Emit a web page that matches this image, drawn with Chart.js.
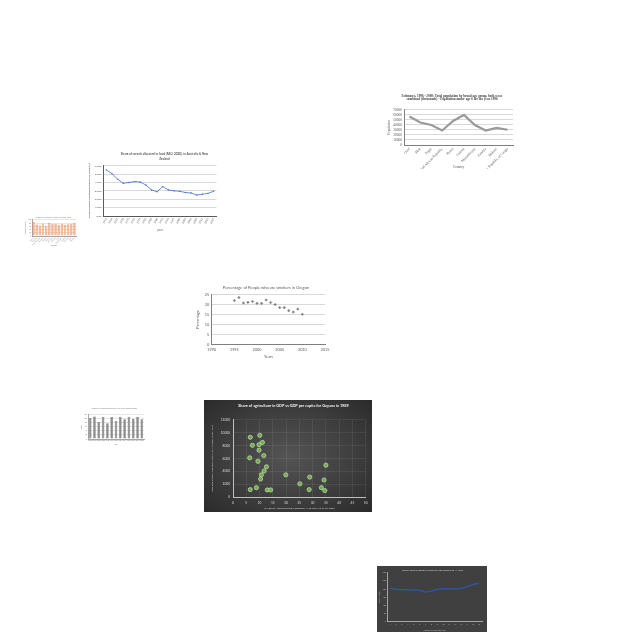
<!DOCTYPE html>
<html><head><meta charset="utf-8">
<script src="https://cdn.jsdelivr.net/npm/chart.js@4.4.1/dist/chart.umd.min.js"></script>
<style>
html,body{margin:0;padding:0;background:#fff;}
#wrap{position:relative;width:640px;height:640px;overflow:hidden;background:#fff;}
canvas,.bg{position:absolute;}
</style></head><body><div id="wrap">
<div class="bg" style="left:204px;top:400px;width:168px;height:112px;background:radial-gradient(ellipse at 50% 50%, #545454 0%, #3c3c3c 60%, #2a2a2a 100%);"></div>
<div class="bg" style="left:377px;top:566px;width:110px;height:66px;background:#404040;"></div>
<canvas id="c1"></canvas><canvas id="c2"></canvas><canvas id="c3"></canvas><canvas id="c4"></canvas>
<canvas id="c5"></canvas><canvas id="c6"></canvas><canvas id="c7"></canvas>
</div>
<script>
// ---- data ----
const popCountries = ["Chad","Mali","Niger","Central African Republic","Benin","Guinea","Mozambique","Zambia","Malawi","Democratic Republic of Congo"];
const popValues = [57000, 45000, 40000, 29000, 48000, 60000, 40000, 29000, 34000, 30500];

const cerealYears = ["1961","1964","1967","1970","1973","1976","1979","1982","1985","1988","1991","1994","1997","2000","2003","2006","2009","2012","2015","2017"];
const cerealShare = [55, 50.5, 44, 39, 40, 41, 40.5, 37, 31, 29, 35, 31, 30, 29.5, 28, 27.5, 25, 26, 27, 29.5];

const barCats3 = ["Austria","Belgium","Czech Republic","Denmark","Finland","France","Germany","Hungary","Italy","Netherlands","Poland","Portugal","Spain","Sweden"];
const barVals3 = [88, 72, 66, 78, 64, 82, 76, 76, 70, 76, 68, 74, 76, 82];

const smokeYears = [1995,1996,1997,1998,1999,2000,2001,2002,2003,2004,2005,2006,2007,2008,2009,2010];
const smokePct = [21.9, 23.4, 20.7, 21.0, 21.4, 20.5, 20.5, 22.2, 20.9, 19.9, 18.4, 18.4, 16.9, 16.2, 17.7, 15.1];

const barYears5 = ["2006","2007","2008","2009","2010","2011","2012","2013","2014","2015","2016","2017","2018"];
const barVals5 = [104, 111, 84, 109, 78, 109, 90, 110, 97, 110, 100, 110, 97];

const agriShare = [6.5, 7.3, 10.1, 11.1, 9.8, 9.8, 11.6, 6.3, 9.4, 12.6, 11.7, 10.7, 10.4, 8.8, 6.5, 12.9, 14.2, 19.9, 25.2, 28.9, 28.7, 35.0, 34.3, 33.3, 34.6];
const gdpPerCapita = [9300, 8050, 9600, 8500, 8150, 7300, 6450, 6100, 5550, 4700, 4050, 3450, 2800, 1450, 1150, 1100, 1100, 3450, 2050, 3100, 1150, 4950, 2650, 1450, 1000];

const weekLabels = ["1","2","3","4","5","6","7","8","9","10","11","12","13","14","15","16"];
const weeklyDeaths = [205, 198, 196, 195, 194, 192, 182, 188, 198, 202, 201, 200, 203, 215, 228, 236];

// ---- helpers ----
function place(id, L, T, W, H){ const c=document.getElementById(id); c.width=W; c.height=H; c.style.left=L+'px'; c.style.top=T+'px'; c.style.width=W+'px'; c.style.height=H+'px'; return c; }
const fw = w => s => { s.width = w; };
const fh = h => s => { s.height = h; };
const plain = v => String(v);
function spacer(w){ return {axis:'y', position:'right', display:true, grid:{display:false,drawTicks:false}, border:{display:false}, ticks:{display:false}, afterFit: fw(w)}; }
function opts(o){
  return Object.assign({responsive:false, animation:false, devicePixelRatio:1, events:[]}, o, {
    plugins: Object.assign({legend:{display:false}, tooltip:{enabled:false}}, o.plugins||{}),
    layout: Object.assign({autoPadding:false}, o.layout||{})
  });
}
const f = (family, size, weight) => ({family, size, lineHeight:1.2, weight: weight||'normal'});
const LATO = 'Lato, "Open Sans", sans-serif';
const SERIF = '"Liberation Serif", "DejaVu Serif", serif';

// ---- chart 1 ----
new Chart(place('c1', 380, 90, 144, 90), {type:'line',
  data:{labels: popCountries, datasets:[{data: popValues, borderColor:'#9a9a9a', borderWidth:2.2, pointRadius:0, tension:0}]},
  options: opts({
    layout:{padding:{bottom:11}},
    plugins:{title:{display:true, text:["Estimates, 1996 - 2008: Total population by broad age group, both sexes","combined (thousands) - Population under age 6 for the year 1996"], font:{family:SERIF,size:3.3,lineHeight:1.1}, color:'#404040', padding:{top:3.9,bottom:8.8}}},
    scales:{
      x:{offset:true, afterFit: fh(24), grid:{display:false,drawTicks:false}, border:{color:'#7f7f7f'}, ticks:{autoSkip:false,minRotation:45,maxRotation:45,padding:2,font:f(SERIF,3.5),color:'#595959'}, title:{display:true,text:'Country',font:f(SERIF,3.5),color:'#595959',padding:{top:0,bottom:0}}},
      y:{min:0,max:70000, afterFit: fw(24), grid:{color:'#d9d9d9',drawTicks:false}, border:{color:'#7f7f7f'}, ticks:{autoSkip:false,stepSize:10000,padding:2,font:f(SERIF,3.5),color:'#595959',callback:plain}, title:{display:true,text:'Population',font:f(SERIF,3.5),color:'#595959',padding:{top:6.9,bottom:0}}},
      sp: spacer(11)
    }
  })});

// ---- chart 2 ----
new Chart(place('c2', 86, 146, 157, 92), {type:'line',
  data:{labels: cerealYears, datasets:[{data: cerealShare, borderColor:'#4472c4', borderWidth:0.8, pointRadius:0.7, pointBackgroundColor:'#4472c4', pointBorderWidth:0, tension:0}]},
  options: opts({
    layout:{padding:{bottom:5}},
    plugins:{title:{display:true, text:["Share of cereals allocated to food (FAO, 2020), in Australia & New","Zealand"], font:{family:LATO,size:3,lineHeight:1.8}, color:'#595959', padding:{top:5.3,bottom:3.6}}},
    scales:{
      x:{offset:true, afterFit: fh(17), grid:{display:false,drawTicks:false}, border:{color:'#595959'}, ticks:{autoSkip:false,minRotation:60,maxRotation:60,padding:1.5,font:f(LATO,2.6),color:'#595959'}, title:{display:true,text:'year',font:f(LATO,2.8),color:'#595959',padding:{top:0,bottom:1.3}}},
      y:{min:0,max:60, afterFit: fw(17.5), grid:{color:'#d9d9d9',drawTicks:false}, border:{color:'#595959'}, ticks:{autoSkip:false,stepSize:10,padding:2,font:f(LATO,2.6),color:'#595959',callback:v=>Number(v).toFixed(2)}, title:{display:true,text:'Share of cereals allocated to food (FAO, 2020) (%)',font:f(LATO,2.5,'bold'),color:'#595959',padding:{top:1.3,bottom:0}}},
      sp: spacer(26.5)
    }
  })});

// ---- chart 3 ----
new Chart(place('c3', 22, 212, 62, 45), {type:'bar',
  data:{labels: barCats3, datasets:[{data: barVals3, backgroundColor:'rgba(244,177,131,0.9)', borderColor:'#e2825a', borderWidth:0.5, barPercentage:0.75, categoryPercentage:1}]},
  options: opts({
    layout:{padding:{bottom:9}},
    plugins:{title:{display:true, text:"Number of visitors by country of origin, 2018", font:f(LATO,1.8), color:'#7f7f7f', padding:{top:3.9,bottom:1.9}}},
    scales:{
      x:{afterFit: fh(12), grid:{display:false,drawTicks:false}, border:{color:'#a6a6a6'}, ticks:{autoSkip:false,minRotation:45,maxRotation:45,padding:1,font:f(LATO,1.6),color:'#7f7f7f'}, title:{display:true,text:'Country',font:f(LATO,1.8),color:'#7f7f7f',padding:{top:0,bottom:1.9}}},
      y:{min:0,max:100, afterFit: fw(10), grid:{color:'#e6e6e6',drawTicks:false}, border:{color:'#a6a6a6'}, ticks:{autoSkip:false,stepSize:20,padding:1,font:f(LATO,1.6),color:'#7f7f7f',callback:plain}, title:{display:true,text:'Visitors (thousands)',font:f(LATO,1.6),color:'#7f7f7f',padding:{top:3,bottom:0}}},
      sp: spacer(8)
    }
  })});

// ---- chart 4 ----
new Chart(place('c4', 192, 280, 148, 84), {type:'scatter',
  data:{datasets:[{data: smokeYears.map((y,i)=>({x:y, y:smokePct[i]})), pointStyle:'rectRot', pointRadius:1.3, backgroundColor:'#7f7f7f', borderColor:'#7f7f7f', borderWidth:0.5}]},
  options: opts({
    layout:{padding:{bottom:4.3}},
    plugins:{title:{display:true, text:"Percentage of People who are smokers in Oregon", font:f(LATO,4), color:'#595959', padding:{top:5.6,bottom:3.9}}},
    scales:{
      x:{type:'linear', min:1990, max:2015, afterFit: fh(15), grid:{display:false,drawTicks:false}, border:{color:'#7f7f7f'}, ticks:{autoSkip:false,stepSize:5,padding:2.7,font:f(LATO,3.8),color:'#595959',callback:plain}, title:{display:true,text:'Years',font:f(LATO,3.8),color:'#595959',padding:{top:0,bottom:0.4}}},
      y:{min:0,max:25, afterFit: fw(19.7), grid:{color:'#d9d9d9',drawTicks:false}, border:{color:'#7f7f7f'}, ticks:{autoSkip:false,stepSize:5,padding:2.5,font:f(LATO,3.8),color:'#595959',callback:plain}, title:{display:true,text:'Percentage',font:f(LATO,3.8),color:'#595959',padding:{top:3.7,bottom:0}}},
      sp: spacer(15)
    }
  })});

// ---- chart 5 ----
new Chart(place('c5', 78, 402, 72, 50), {type:'bar',
  data:{labels: barYears5, datasets:[{data: barVals5, backgroundColor:'#8c8c8c', borderColor:'#5f5f5f', borderWidth:0.5, barPercentage:0.6, categoryPercentage:1}]},
  options: opts({
    layout:{padding:{bottom:4}},
    plugins:{title:{display:true, text:"Number of reported cases per year in the United States", font:f(LATO,1.9), color:'#7f7f7f', padding:{top:4.9,bottom:5.5}}},
    scales:{
      x:{afterFit: fh(9), grid:{display:false,drawTicks:false}, border:{color:'#a6a6a6'}, ticks:{autoSkip:false,minRotation:0,maxRotation:0,padding:1,font:f(LATO,1.6),color:'#7f7f7f'}, title:{display:true,text:'Year',font:f(LATO,1.8),color:'#7f7f7f',padding:{top:0,bottom:2.4}}},
      y:{min:0,max:120, afterFit: fw(10), grid:{color:'#e6e6e6',drawTicks:false}, border:{color:'#a6a6a6'}, ticks:{autoSkip:false,stepSize:20,padding:1,font:f(LATO,1.6),color:'#7f7f7f',callback:plain}, title:{display:true,text:'Cases',font:f(LATO,1.6),color:'#7f7f7f',padding:{top:3,bottom:0}}},
      sp: spacer(6)
    }
  })});

// ---- chart 6 ----
new Chart(place('c6', 204, 400, 179, 112), {type:'scatter',
  data:{datasets:[{data: agriShare.map((x,i)=>({x, y:gdpPerCapita[i]})), pointRadius:2.1, backgroundColor:'#70ad47', borderColor:'#c5e0b4', borderWidth:0.7}]},
  options: opts({
    plugins:{title:{display:true, text:"Share of agriculture in GDP vs GDP per capita for Guyana in 1989", font:f(LATO,3.8,'bold'), color:'#f2f2f2', padding:{top:3.7,bottom:11.7}}},
    scales:{
      x:{type:'linear', min:0, max:50, afterFit: fh(15), grid:{color:'rgba(255,255,255,0.07)',drawTicks:false}, border:{color:'#bfbfbf'}, ticks:{autoSkip:false,stepSize:5,padding:3.8,font:f(LATO,3.2),color:'#d9d9d9',callback:plain}, title:{display:true,text:'SHARE OF AGRICULTURE, FORESTRY, AND FISHING (% OF GDP)',font:f(LATO,2.4),color:'#d9d9d9',padding:{top:0,bottom:1.9}}},
      y:{min:0,max:12000, afterFit: fw(29), grid:{color:'rgba(255,255,255,0.07)',drawTicks:false}, border:{color:'#bfbfbf'}, ticks:{autoSkip:false,stepSize:2000,padding:3,font:f(LATO,3.2),color:'#d9d9d9',callback:plain}, title:{display:true,text:'GDP PER CAPITA, PPP (CONSTANT 2011 INTERNATIONAL $)',font:f(LATO,2.4),color:'#d9d9d9',padding:{top:7.2,bottom:0}}},
      sp: spacer(17.3)
    }
  })});

// ---- chart 7 ----
new Chart(place('c7', 377, 566, 111, 66), {type:'line',
  data:{labels: weekLabels, datasets:[{data: weeklyDeaths, borderColor:'#2f5597', borderWidth:1.5, pointRadius:0, tension:0}]},
  options: opts({
    layout:{padding:{bottom:0.3}},
    plugins:{title:{display:true, text:"Weekly count of Deaths in Florida for age between 25-44 years", font:f(LATO,2.2), color:'#d9d9d9', padding:{top:2.7,bottom:1.36}}},
    scales:{
      x:{offset:true, afterFit: fh(10), grid:{display:false,drawTicks:false}, border:{color:'#a6a6a6'}, ticks:{autoSkip:false,minRotation:0,maxRotation:0,padding:1.5,font:f(LATO,1.8),color:'#bfbfbf'}, title:{display:true,text:'Number of Week in the Year',font:f(LATO,1.8),color:'#bfbfbf',padding:{top:0,bottom:0.6}}},
      y:{min:0,max:300, afterFit: fw(10), grid:{display:false,drawTicks:false}, border:{color:'#a6a6a6'}, ticks:{autoSkip:false,stepSize:50,padding:1,font:f(LATO,1.8),color:'#bfbfbf',callback:plain}, title:{display:true,text:'Count of Deaths',font:f(LATO,1.6),color:'#bfbfbf',padding:{top:2,bottom:0}}},
      sp: spacer(6)
    }
  })});
</script>
</body></html>
